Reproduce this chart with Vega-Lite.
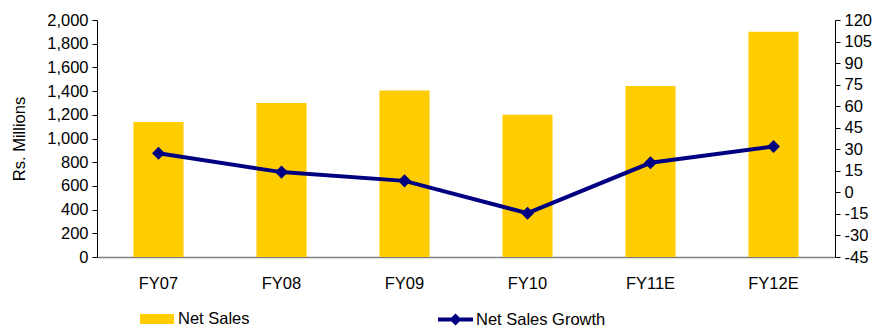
{
  "$schema": "https://vega.github.io/schema/vega-lite/v6.json",
  "width": 738,
  "height": 237,
  "autosize": {"type": "none"},
  "padding": {"left": 97, "top": 20, "right": 43, "bottom": 71},
  "background": "white",
  "config": {
    "view": {"stroke": null},
    "font": "Liberation Sans",
    "axis": {"labelFont": "Liberation Sans", "titleFont": "Liberation Sans", "labelFontSize": 16.5, "labelColor": "#000000", "titleColor": "#000000", "grid": false},
    "legend": {"labelFont": "Liberation Sans", "labelFontSize": 16.5, "labelColor": "#000000"}
  },
  "data": {
    "values": [
      {"year": "FY07", "sales": 1140, "growth": 27.2},
      {"year": "FY08", "sales": 1300, "growth": 14.1},
      {"year": "FY09", "sales": 1405, "growth": 8.0},
      {"year": "FY10", "sales": 1200, "growth": -14.5},
      {"year": "FY11E", "sales": 1443, "growth": 20.6},
      {"year": "FY12E", "sales": 1900, "growth": 32.0}
    ]
  },
  "encoding": {
    "x": {
      "field": "year",
      "type": "nominal",
      "sort": null,
      "scale": {"paddingInner": 0.593, "paddingOuter": 0.2965},
      "axis": {"title": null, "labelAngle": 0, "ticks": false, "labelPadding": 18, "domainColor": "#808080", "domainWidth": 1.5}
    }
  },
  "layer": [
    {
      "mark": {"type": "bar", "color": "#FFCC00"},
      "encoding": {
        "y": {
          "field": "sales",
          "type": "quantitative",
          "scale": {"domain": [0, 2000], "nice": false},
          "axis": {
            "title": "Rs. Millions",
            "titleFontSize": 16.5,
            "titleFontWeight": "normal",
            "titlePadding": 19,
            "values": [0, 200, 400, 600, 800, 1000, 1200, 1400, 1600, 1800, 2000],
            "format": ",d",
            "domainColor": "#000000",
            "tickColor": "#000000",
            "tickSize": 5,
            "labelPadding": 4
          }
        },
        "color": {
          "datum": "Net Sales",
          "type": "nominal",
          "scale": {"range": ["#FFCC00"]},
          "legend": {
            "title": null,
            "orient": "none",
            "legendX": 43,
            "legendY": 282,
            "symbolType": "M-1,-0.3H1V0.3H-1Z",
            "symbolSize": 1156,
            "symbolStrokeWidth": 0,
            "labelOffset": 4
          }
        }
      }
    },
    {
      "mark": {"type": "line", "color": "#000080", "strokeWidth": 4, "point": {"filled": true, "shape": "diamond", "size": 170, "color": "#000080"}},
      "encoding": {
        "y": {
          "field": "growth",
          "type": "quantitative",
          "scale": {"domain": [-45, 120], "nice": false},
          "axis": {
            "orient": "right",
            "title": null,
            "values": [-45, -30, -15, 0, 15, 30, 45, 60, 75, 90, 105, 120],
            "labelExpr": "toString(datum.value)",
            "domainColor": "#000000",
            "tickColor": "#000000",
            "tickSize": 5,
            "labelPadding": 4
          }
        },
        "color": {
          "datum": "Net Sales Growth",
          "type": "nominal",
          "scale": {"range": ["#000080"]},
          "legend": {
            "title": null,
            "orient": "none",
            "legendX": 341,
            "legendY": 282,
            "symbolType": "M-1,-0.11H-0.23L0,-0.34L0.23,-0.11H1V0.11H0.23L0,0.34L-0.23,0.11H-1Z",
            "symbolSize": 1225,
            "symbolFillColor": "#000080",
            "symbolStrokeWidth": 0,
            "labelOffset": 3
          }
        }
      }
    }
  ],
  "resolve": {"scale": {"y": "independent", "color": "independent"}, "legend": {"color": "independent"}}
}
